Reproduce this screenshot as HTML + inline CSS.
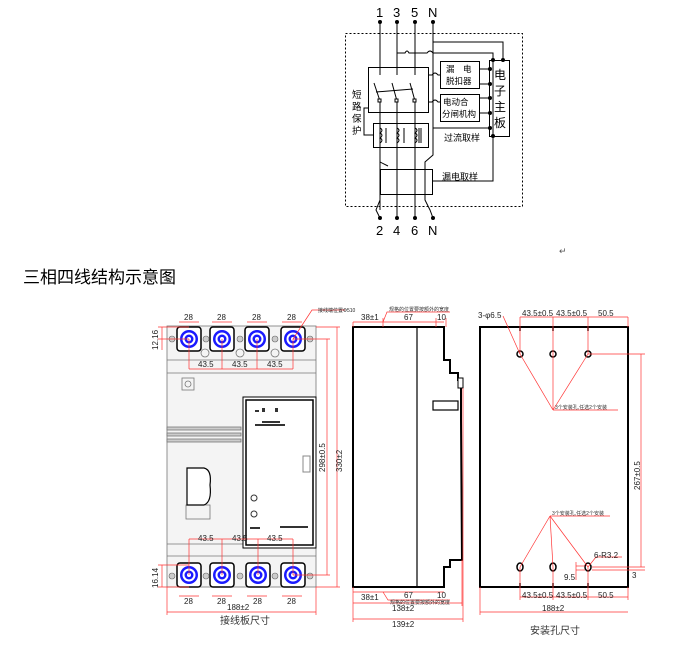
<!DOCTYPE html>
<html><head><meta charset="utf-8"><style>
html,body{margin:0;padding:0;background:#fff;width:689px;height:650px;overflow:hidden}
svg{display:block}
text{font-family:"Liberation Sans","Noto Sans CJK SC",sans-serif}
</style></head><body>
<svg width="689" height="650" viewBox="0 0 689 650" xmlns="http://www.w3.org/2000/svg">
<g font-family="Liberation Serif" font-size="13" fill="#000">
<text x="376" y="17">1</text><text x="393" y="17">3</text><text x="411" y="17">5</text><text x="428" y="17">N</text>
<text x="376" y="235">2</text><text x="393" y="235">4</text><text x="411" y="235">6</text><text x="428" y="235">N</text>
</g>
<rect x="345.5" y="33.5" width="177" height="173" fill="none" stroke="#000" stroke-dasharray="2,2"/>
<g stroke="#000" fill="none" stroke-width="1">
<line x1="380" y1="22" x2="380" y2="75"/><line x1="397" y1="22" x2="397" y2="75"/><line x1="415" y1="22" x2="415" y2="75"/>
<line x1="433" y1="22" x2="433" y2="125"/>
<rect x="368.5" y="67.5" width="60" height="45"/>
<line x1="374" y1="83" x2="380" y2="101"/><line x1="392" y1="83" x2="397" y2="101"/><line x1="410" y1="83" x2="415" y2="101"/>
<line x1="376" y1="92" x2="413" y2="89"/>
<line x1="380" y1="101" x2="380" y2="210"/><line x1="397" y1="101" x2="397" y2="218"/><line x1="415" y1="101" x2="415" y2="218"/>
<rect x="373.5" y="123.5" width="55" height="24"/>
<path d="M380 128 q4 2 0 5 q4 2 0 5 q4 2 0 5"/><path d="M397 128 q4 2 0 5 q4 2 0 5 q4 2 0 5"/><path d="M415 128 q4 2 0 5 q4 2 0 5 q4 2 0 5"/>
<line x1="386" y1="128" x2="386" y2="143"/><line x1="404" y1="128" x2="404" y2="143"/><line x1="419" y1="128" x2="419" y2="143"/><line x1="421" y1="128" x2="421" y2="143"/>
<polyline points="368,108 364,108 364,135 373,135"/>
<path d="M433 125 L433 155 L425 162 L425 200 L430 210 L433 218"/>
<path d="M380 150 L380 162 L388 166"/>
<rect x="380.5" y="169.5" width="52" height="25"/>
<path d="M380 200 L376 210 L380 218"/>
<polyline points="433,42 503,42 503,60"/>
<path d="M397 53 L405 53 q2 -4 4 0 L427 53 q3 -4 6 0 L493 53 L493 60"/>
<path d="M428 75 L432 75 q3 -4 6 0 L440 75"/>
<path d="M428 102 L432 102 q3 -4 6 0 L440 102"/>
<rect x="440.5" y="61.5" width="39" height="27"/>
<rect x="440.5" y="94.5" width="39" height="27"/>
<rect x="489.5" y="60.5" width="20" height="76"/>
<line x1="479" y1="69" x2="490" y2="69"/><line x1="479" y1="84" x2="490" y2="84"/>
<line x1="479" y1="98" x2="490" y2="98"/><line x1="479" y1="113" x2="490" y2="113"/>
<line x1="493" y1="60" x2="493" y2="136"/>
<line x1="433" y1="128" x2="490" y2="128"/>
<polyline points="432,181 493,181 493,136"/>
</g>
<g fill="#000">
<circle cx="380" cy="22" r="2"/><circle cx="397" cy="22" r="2"/><circle cx="415" cy="22" r="2"/><circle cx="433" cy="22" r="2"/>
<circle cx="380" cy="218" r="2"/><circle cx="397" cy="218" r="2"/><circle cx="415" cy="218" r="2"/><circle cx="433" cy="218" r="2"/>
<circle cx="493" cy="60" r="2"/><circle cx="503" cy="60" r="2"/>
<circle cx="490" cy="69" r="2"/><circle cx="490" cy="84" r="2"/><circle cx="490" cy="98" r="2"/><circle cx="490" cy="113" r="2"/>
<circle cx="490" cy="128" r="2"/><circle cx="493" cy="136" r="2"/>
</g>
<g fill="#fff" stroke="#000"><rect x="378" y="99" width="3" height="3"/><rect x="395" y="99" width="3" height="3"/><rect x="413" y="99" width="3" height="3"/></g>
<g font-size="8.5" fill="#000">
<text x="446" y="72">漏　电</text><text x="446" y="84">脱扣器</text>
<text x="443" y="105">电动合</text><text x="442" y="117">分闸机构</text>
<text x="444" y="141" font-size="9">过流取样</text><text x="442" y="180" font-size="9">漏电取样</text>
<text x="352" y="98" font-size="9.5">短</text><text x="352" y="110" font-size="9.5">路</text><text x="352" y="122" font-size="9.5">保</text><text x="352" y="134" font-size="9.5">护</text>
</g>
<g font-size="12" fill="#000"><text x="494" y="79">电</text><text x="494" y="95">子</text><text x="494" y="111">主</text><text x="494" y="127">板</text></g>
<text x="559" y="254" font-size="9" fill="#555">↵</text>
<text x="23" y="283" font-size="17" fill="#000">三相四线结构示意图</text>
<text x="165" y="283" font-size="10" fill="#555">↵</text>

<g stroke="#777" fill="none" stroke-width="0.8">
<rect x="167" y="326" width="149" height="261" fill="#f4f4f4"/>
<line x1="167" y1="360" x2="316" y2="360"/><line x1="167" y1="373" x2="316" y2="373"/>
<line x1="167" y1="544" x2="316" y2="544"/><line x1="167" y1="556" x2="316" y2="556"/>
<rect x="182" y="378" width="12" height="12"/><circle cx="188" cy="384" r="3"/>
<rect x="167" y="427" width="74" height="3" fill="#ccc"/><rect x="167" y="433" width="74" height="3" fill="#ccc"/><rect x="167" y="439" width="74" height="3" fill="#ccc"/>
<rect x="186" y="505" width="24" height="14"/>
<circle cx="205" cy="353" r="4"/><circle cx="240" cy="353" r="4"/><circle cx="275" cy="353" r="4"/>
</g>
<path d="M187 468 L204 468 Q212 470 210 485 Q212 502 204 505 L187 505 Z" fill="#fff" stroke="#000" stroke-width="1.2"/>
<rect x="243" y="397" width="73" height="151" fill="#fff" stroke="#000" stroke-width="1"/>
<rect x="246" y="400" width="67" height="145" fill="none" stroke="#000" stroke-width="1.5"/>
<rect x="303" y="456" width="7" height="16" fill="none" stroke="#888"/>
<g fill="#333" font-size="3"><rect x="255" y="410" width="4" height="2"/><rect x="262" y="408" width="3" height="4"/><rect x="275" y="408" width="3" height="4"/>
<rect x="262" y="421" width="18" height="2"/><rect x="255" y="424" width="30" height="2"/>
<circle cx="254" cy="498" r="3" fill="none" stroke="#333"/><circle cx="254" cy="514" r="3" fill="none" stroke="#333"/>
<rect x="280" y="526" width="28" height="2"/><rect x="250" y="527" width="10" height="2"/></g>
<g>
<g transform="translate(189,339)"><rect x="-12" y="-12" width="24" height="24" rx="3" fill="#fff" stroke="#000" stroke-width="1.5"/><circle r="9" fill="#1a1aff"/><circle r="6.5" fill="#fff"/><circle r="4.5" fill="#1a1aff"/><circle r="2" fill="#fff"/></g>
<g transform="translate(222,339)"><rect x="-12" y="-12" width="24" height="24" rx="3" fill="#fff" stroke="#000" stroke-width="1.5"/><circle r="9" fill="#1a1aff"/><circle r="6.5" fill="#fff"/><circle r="4.5" fill="#1a1aff"/><circle r="2" fill="#fff"/></g>
<g transform="translate(257,339)"><rect x="-12" y="-12" width="24" height="24" rx="3" fill="#fff" stroke="#000" stroke-width="1.5"/><circle r="9" fill="#1a1aff"/><circle r="6.5" fill="#fff"/><circle r="4.5" fill="#1a1aff"/><circle r="2" fill="#fff"/></g>
<g transform="translate(293,339)"><rect x="-12" y="-12" width="24" height="24" rx="3" fill="#fff" stroke="#000" stroke-width="1.5"/><circle r="9" fill="#1a1aff"/><circle r="6.5" fill="#fff"/><circle r="4.5" fill="#1a1aff"/><circle r="2" fill="#fff"/></g>
<g transform="translate(189,575)"><rect x="-12" y="-12" width="24" height="24" rx="3" fill="#fff" stroke="#000" stroke-width="1.5"/><circle r="9" fill="#1a1aff"/><circle r="6.5" fill="#fff"/><circle r="4.5" fill="#1a1aff"/><circle r="2" fill="#fff"/></g>
<g transform="translate(222,575)"><rect x="-12" y="-12" width="24" height="24" rx="3" fill="#fff" stroke="#000" stroke-width="1.5"/><circle r="9" fill="#1a1aff"/><circle r="6.5" fill="#fff"/><circle r="4.5" fill="#1a1aff"/><circle r="2" fill="#fff"/></g>
<g transform="translate(258,575)"><rect x="-12" y="-12" width="24" height="24" rx="3" fill="#fff" stroke="#000" stroke-width="1.5"/><circle r="9" fill="#1a1aff"/><circle r="6.5" fill="#fff"/><circle r="4.5" fill="#1a1aff"/><circle r="2" fill="#fff"/></g>
<g transform="translate(293,575)"><rect x="-12" y="-12" width="24" height="24" rx="3" fill="#fff" stroke="#000" stroke-width="1.5"/><circle r="9" fill="#1a1aff"/><circle r="6.5" fill="#fff"/><circle r="4.5" fill="#1a1aff"/><circle r="2" fill="#fff"/></g>
</g>
<g fill="#ccc" stroke="#666" stroke-width="0.6"><circle cx="172" cy="339" r="3"/><circle cx="206" cy="339" r="3"/><circle cx="240" cy="339" r="3"/><circle cx="275" cy="339" r="3"/><circle cx="310" cy="339" r="3"/>
<circle cx="172" cy="576" r="3"/><circle cx="206" cy="576" r="3"/><circle cx="240" cy="576" r="3"/><circle cx="275" cy="576" r="3"/><circle cx="310" cy="576" r="3"/></g>
<g stroke="#f33" stroke-width="0.7" fill="none">
<line x1="179" y1="322" x2="199" y2="322"/><line x1="212" y1="322" x2="232" y2="322"/><line x1="247" y1="322" x2="267" y2="322"/><line x1="282" y1="322" x2="302" y2="322"/>
<line x1="179" y1="596" x2="199" y2="596"/><line x1="212" y1="596" x2="232" y2="596"/><line x1="247" y1="596" x2="267" y2="596"/><line x1="282" y1="596" x2="302" y2="596"/>
<line x1="189" y1="339" x2="189" y2="369"/><line x1="222" y1="339" x2="222" y2="369"/><line x1="257" y1="339" x2="257" y2="369"/><line x1="293" y1="339" x2="293" y2="369"/>
<line x1="189" y1="369" x2="293" y2="369"/>
<line x1="189" y1="539" x2="293" y2="539"/>
<line x1="189" y1="539" x2="189" y2="575"/><line x1="222" y1="539" x2="222" y2="575"/><line x1="258" y1="539" x2="258" y2="575"/><line x1="293" y1="539" x2="293" y2="575"/>
<line x1="158" y1="327" x2="189" y2="327"/><line x1="158" y1="339" x2="189" y2="339"/><line x1="162" y1="327" x2="162" y2="350"/>
<line x1="158" y1="565" x2="189" y2="565"/><line x1="158" y1="587" x2="189" y2="587"/><line x1="162" y1="565" x2="162" y2="587"/>
<line x1="293" y1="339" x2="330" y2="339"/><line x1="293" y1="575" x2="330" y2="575"/><line x1="327" y1="339" x2="327" y2="575"/>
<line x1="316" y1="327" x2="340" y2="327"/><line x1="316" y1="587" x2="340" y2="587"/><line x1="337" y1="327" x2="337" y2="587"/>
<line x1="167" y1="587" x2="167" y2="615"/><line x1="316" y1="587" x2="316" y2="615"/><line x1="167" y1="612" x2="316" y2="612"/>
<polyline points="293,339 312,310 345,310"/>
</g>
<g font-size="8" fill="#222">
<text x="184" y="320">28</text><text x="217" y="320">28</text><text x="252" y="320">28</text><text x="287" y="320">28</text>
<text x="184" y="604">28</text><text x="217" y="604">28</text><text x="253" y="604">28</text><text x="287" y="604">28</text>
<text x="198" y="367">43.5</text><text x="232" y="367">43.5</text><text x="267" y="367">43.5</text>
<text x="198" y="541">43.5</text><text x="232" y="541">43.5</text><text x="267" y="541">43.5</text>
<text x="227" y="610">188±2</text>
<text transform="translate(158,350) rotate(-90)">12.16</text>
<text transform="translate(158,588) rotate(-90)">16.14</text>
<text transform="translate(325,472) rotate(-90)">298±0.5</text>
<text transform="translate(342,472) rotate(-90)">330±2</text>
<text x="318" y="312" font-size="5">接线端位置Φ510</text>
</g>
<text x="220" y="624" font-size="10" fill="#333">接线板尺寸</text>

<g stroke="#000" fill="none" stroke-width="2">
<path d="M353 327 L444 327 L444 360 L450 360 L450 373 L458 373 L458 380 L461 380 L461 420 L462 560 L458 560 L450 560 L450 567 L444 567 L444 587 L353 587 Z"/>
</g>
<line x1="417" y1="327" x2="417" y2="587" stroke="#000" stroke-width="1.2"/>
<rect x="433" y="401" width="25" height="9" fill="#fff" stroke="#000" stroke-width="1.2"/>
<rect x="458" y="378" width="5" height="10" fill="#fff" stroke="#000" stroke-width="1"/>
<g stroke="#f33" stroke-width="0.7" fill="none">
<line x1="353" y1="322" x2="444" y2="322"/><line x1="353" y1="322" x2="353" y2="327"/><line x1="383" y1="318" x2="383" y2="327"/><line x1="436" y1="318" x2="436" y2="327"/><line x1="446" y1="318" x2="446" y2="327"/>
<line x1="353" y1="592" x2="444" y2="592"/><line x1="353" y1="603" x2="462" y2="603"/><line x1="353" y1="619" x2="463" y2="619"/>
<line x1="353" y1="587" x2="353" y2="622"/><line x1="462" y1="560" x2="462" y2="606"/><line x1="463" y1="388" x2="463" y2="622"/>
<polyline points="383,322 387,312 450,312"/><polyline points="383,592 388,600 450,600"/>
</g>
<g font-size="8" fill="#222">
<text x="361" y="320">38±1</text><text x="404" y="320">67</text><text x="437" y="320">10</text>
<text x="361" y="600">38±1</text><text x="404" y="598">67</text><text x="437" y="598">10</text>
<text x="392" y="611">138±2</text><text x="392" y="627">139±2</text>
</g>
<g font-size="5" fill="#333"><text x="389" y="311">规格的位置要按额外的宽度</text><text x="390" y="604">规格的位置要按额外的宽度</text></g>

<rect x="480" y="327" width="148" height="260" fill="none" stroke="#000" stroke-width="2"/>
<g fill="#fff" stroke="#000" stroke-width="1.5">
<circle cx="520" cy="354" r="3"/><circle cx="553" cy="354" r="3"/><circle cx="588" cy="354" r="3"/>
<ellipse cx="520" cy="567" rx="3" ry="4"/><ellipse cx="553" cy="567" rx="3" ry="4"/><ellipse cx="588" cy="567" rx="3" ry="4"/>
</g>
<g stroke="#000" stroke-width="1.5"><line x1="520" y1="327" x2="520" y2="331"/><line x1="553" y1="327" x2="553" y2="331"/><line x1="588" y1="327" x2="588" y2="331"/>
<line x1="520" y1="583" x2="520" y2="587"/><line x1="553" y1="583" x2="553" y2="587"/><line x1="588" y1="583" x2="588" y2="587"/></g>
<g stroke="#f33" stroke-width="0.7" fill="none">
<line x1="520" y1="317" x2="628" y2="317"/><line x1="520" y1="317" x2="520" y2="354"/><line x1="553" y1="317" x2="553" y2="354"/><line x1="588" y1="317" x2="588" y2="354"/><line x1="628" y1="317" x2="628" y2="327"/>
<line x1="520" y1="597" x2="628" y2="597"/><line x1="520" y1="567" x2="520" y2="600"/><line x1="553" y1="567" x2="553" y2="600"/><line x1="588" y1="567" x2="588" y2="600"/><line x1="628" y1="587" x2="628" y2="600"/>
<line x1="480" y1="612" x2="628" y2="612"/><line x1="480" y1="587" x2="480" y2="615"/>
<line x1="503" y1="316" x2="520" y2="354"/>
<line x1="520" y1="354" x2="553" y2="410"/><line x1="553" y1="354" x2="553" y2="410"/><line x1="588" y1="354" x2="553" y2="410"/><line x1="553" y1="410" x2="618" y2="410"/>
<line x1="550" y1="516" x2="520" y2="567"/><line x1="550" y1="516" x2="553" y2="567"/><line x1="550" y1="516" x2="588" y2="567"/><line x1="550" y1="516" x2="610" y2="516"/>
<line x1="588" y1="354" x2="645" y2="354"/><line x1="641" y1="354" x2="641" y2="567"/><line x1="592" y1="567" x2="645" y2="567"/><line x1="592" y1="570" x2="645" y2="570"/>
<line x1="588" y1="567" x2="596" y2="557"/><line x1="596" y1="557" x2="622" y2="557"/>
<line x1="576" y1="562" x2="576" y2="580"/><line x1="576" y1="566" x2="585" y2="566"/><line x1="576" y1="570" x2="585" y2="570"/>
</g>
<g font-size="8" fill="#222">
<text x="478" y="318">3-φ6.5</text><text x="522" y="316">43.5±0.5</text><text x="556" y="316">43.5±0.5</text><text x="598" y="316">50.5</text>
<text x="522" y="598">43.5±0.5</text><text x="556" y="598">43.5±0.5</text><text x="598" y="598">50.5</text>
<text x="542" y="611">188±2</text>
<text x="594" y="558">6-R3.2</text><text x="564" y="580">9.5</text><text x="632" y="578">3</text>
<text transform="translate(640,490) rotate(-90)">267±0.5</text>
</g>
<g font-size="5" fill="#333"><text x="555" y="409">3个安装孔,任选2个安装</text><text x="552" y="515">3个安装孔,任选2个安装</text></g>
<text x="530" y="634" font-size="10" fill="#333">安装孔尺寸</text>
</svg>
</body></html>
